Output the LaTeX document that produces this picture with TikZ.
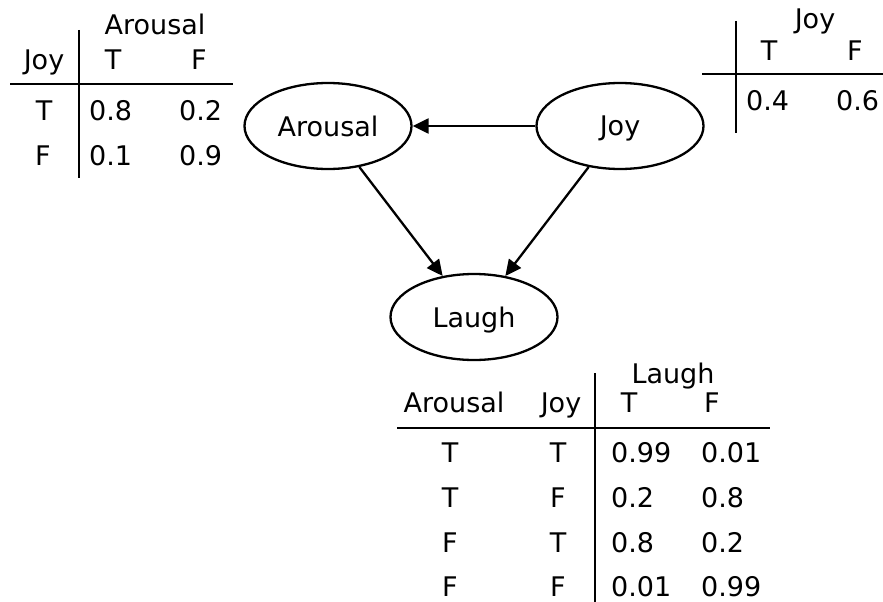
\documentclass[tikz,border=0pt]{standalone}
\usepackage{fontspec}
\setmainfont{DejaVu Sans}
\usetikzlibrary{shapes.geometric,arrows.meta}
\begin{document}
\begin{tikzpicture}[x=1pt, y=-1pt, line width=2.3pt,
  font=\fontsize{27}{32}\selectfont,
  var/.style={draw, ellipse, minimum width=167pt, minimum height=86pt, inner sep=0pt, text depth=0pt},
  edge/.style={-{Triangle[length=16pt,width=15pt]}},
  lab/.style={anchor=base, inner sep=0pt},
  num/.style={anchor=base west, inner sep=0pt}]
  \useasboundingbox (0,0) rectangle (883,602);

  \node[var] (arousal) at (328,126) {Arousal};
  \node[var] (joy) at (620,126) {Joy};
  \node[var] (laugh) at (474,317) {Laugh};

  \draw[edge] (joy) -- (arousal);
  \draw[edge] (arousal) -- (laugh);
  \draw[edge] (joy) -- (laugh);

  % Arousal given Joy
  \draw (10,84) -- (233,84);
  \draw (79,30) -- (79,178);
  \node[lab] (A) at (155,35) {Arousal};
  \node[lab] (B) at (44,70) {Joy};
  \node[lab] (C) at (113,70) {T};
  \node[lab] (D) at (199,70) {F};
  \node[lab] (E) at (44,120) {T};
  \node[num] (F) at (88,120) {0.8};
  \node[num] (G) at (178,120) {0.2};
  \node[lab] (H) at (43,165) {F};
  \node[num] (I) at (88,165) {0.1};
  \node[num] (J) at (178,165) {0.9};

  % Joy
  \draw (702,74) -- (883,74);
  \draw (736,21) -- (736,133);
  \node[lab] (K) at (815,29) {Joy};
  \node[lab] (L) at (769,60) {T};
  \node[lab] (M) at (855,60) {F};
  \node[num] (N) at (745,110) {0.4};
  \node[num] (O) at (835,110) {0.6};

  % Laugh given Arousal, Joy
  \draw (397,428) -- (770,428);
  \draw (595,373) -- (595,602);
  \node[lab] (P) at (673,383) {Laugh};
  \node[lab] (Q) at (454,412) {Arousal};
  \node[lab] (R) at (561,412) {Joy};
  \node[lab] (S) at (629,412) {T};
  \node[lab] (T) at (712,412) {F};

  \node[lab] (r1a) at (450,462) {T};
  \node[lab] (r1b) at (558,462) {T};
  \node[num] (r1c) at (610,462) {0.99};
  \node[num] (r1d) at (700,462) {0.01};

  \node[lab] (r2a) at (450,507) {T};
  \node[lab] (r2b) at (558,507) {F};
  \node[num] (r2c) at (610,507) {0.2};
  \node[num] (r2d) at (700,507) {0.8};

  \node[lab] (r3a) at (450,552) {F};
  \node[lab] (r3b) at (558,552) {T};
  \node[num] (r3c) at (610,552) {0.8};
  \node[num] (r3d) at (700,552) {0.2};

  \node[lab] (r4a) at (450,596) {F};
  \node[lab] (r4b) at (558,596) {F};
  \node[num] (r4c) at (610,596) {0.01};
  \node[num] (r4d) at (700,596) {0.99};

\end{tikzpicture}
\end{document}
